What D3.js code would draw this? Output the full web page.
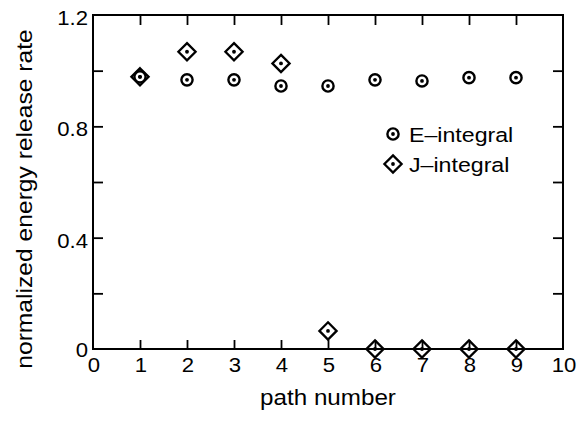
<!DOCTYPE html>
<html><head><meta charset="utf-8">
<script src="https://cdn.jsdelivr.net/npm/d3@7"></script>
<style>body{margin:0;background:#fff}svg{display:block}text{font-family:"Liberation Sans",Arial,sans-serif;fill:#000}</style>
</head><body><svg id="c" width="587" height="422"></svg>
<script>
const paths = [1,2,3,4,5,6,7,8,9];
const eIntegral = [0.978,0.967,0.967,0.945,0.945,0.967,0.963,0.975,0.975];
const jIntegral = [0.978,1.068,1.068,1.026,0.065,0,0,0,0];
const xTickLabels = [0,1,2,3,4,5,6,7,8,9,10];
const yTickLabels = ["0","0.4","0.8","1.2"];
const yTickValues = [0,0.4,0.8,1.2];
const yMinorTicks = [0.2,0.4,0.6,0.8,1.0];
const seriesNames = ["E\u2013integral","J\u2013integral"];

const svg = d3.select("#c");
const x = d3.scaleLinear().domain([0,10]).range([93,563]);
const y = d3.scaleLinear().domain([0,1.2]).range([349,15]);

// frame
svg.append("rect").attr("x",x(0)).attr("y",y(1.2)).attr("width",x(10)-x(0)).attr("height",y(0)-y(1.2))
  .attr("fill","none").attr("stroke","#000").attr("stroke-width",2);

// ticks via axes (inward)
const tk = 9;
function styleAxis(g){ g.select(".domain").remove(); g.selectAll("line").attr("stroke","#000").attr("stroke-width",1.8); g.selectAll("text").remove(); }
svg.append("g").attr("transform",`translate(0,${y(0)})`).call(d3.axisBottom(x).tickValues(paths).tickSize(-tk)).call(styleAxis);
svg.append("g").attr("transform",`translate(0,${y(1.2)})`).call(d3.axisTop(x).tickValues(paths).tickSize(-tk-1)).call(styleAxis);
svg.append("g").attr("transform",`translate(${x(0)},0)`).call(d3.axisLeft(y).tickValues(yMinorTicks).tickSize(-tk-1)).call(styleAxis);
svg.append("g").attr("transform",`translate(${x(10)},0)`).call(d3.axisRight(y).tickValues(yMinorTicks).tickSize(-tk-1)).call(styleAxis);

// text helper
function txt(px,py,s,anchor,size,sx){
  return svg.append("g").attr("transform",`translate(${px},${py}) scale(${sx},1)`)
    .append("text").attr("text-anchor",anchor).attr("font-size",size).text(s);
}
xTickLabels.forEach(v=>txt(x(v)+1,372,String(v),"middle",20.5,1.08));
yTickLabels.forEach((s,i)=>txt(88,y(yTickValues[i])+(yTickValues[i]===0?8:10),s,"end",20.5,1.08));

// axis titles
txt((x(0)+x(10))/2,405,"path number","middle",22,1.1);
svg.append("g").attr("transform",`translate(32,199) rotate(-90) scale(1.12,1)`)
  .append("text").attr("text-anchor","middle").attr("font-size",22).text("normalized energy release rate");

// markers
function circleMark(g,cx,cy){
  g.append("circle").attr("cx",cx).attr("cy",cy).attr("r",5.6).attr("fill","none").attr("stroke","#000").attr("stroke-width",2.4);
  g.append("circle").attr("cx",cx).attr("cy",cy).attr("r",1.9).attr("fill","#000");
}
function diamondMark(g,cx,cy){
  const h=8.6;
  g.append("path").attr("d",`M${cx},${cy-h}L${cx+h},${cy}L${cx},${cy+h}L${cx-h},${cy}Z`).attr("fill","none").attr("stroke","#000").attr("stroke-width",2.3);
  g.append("circle").attr("cx",cx).attr("cy",cy).attr("r",1.9).attr("fill","#000");
}
const gm = svg.append("g");
paths.forEach((p,i)=>circleMark(gm,x(p),y(eIntegral[i])));
paths.forEach((p,i)=>diamondMark(gm,x(p),y(jIntegral[i])));

// legend
circleMark(svg,393,134);
diamondMark(svg,393,164);
txt(409,142,seriesNames[0],"start",20.5,1.13);
txt(409,172,seriesNames[1],"start",20.5,1.13);
</script></body></html>
